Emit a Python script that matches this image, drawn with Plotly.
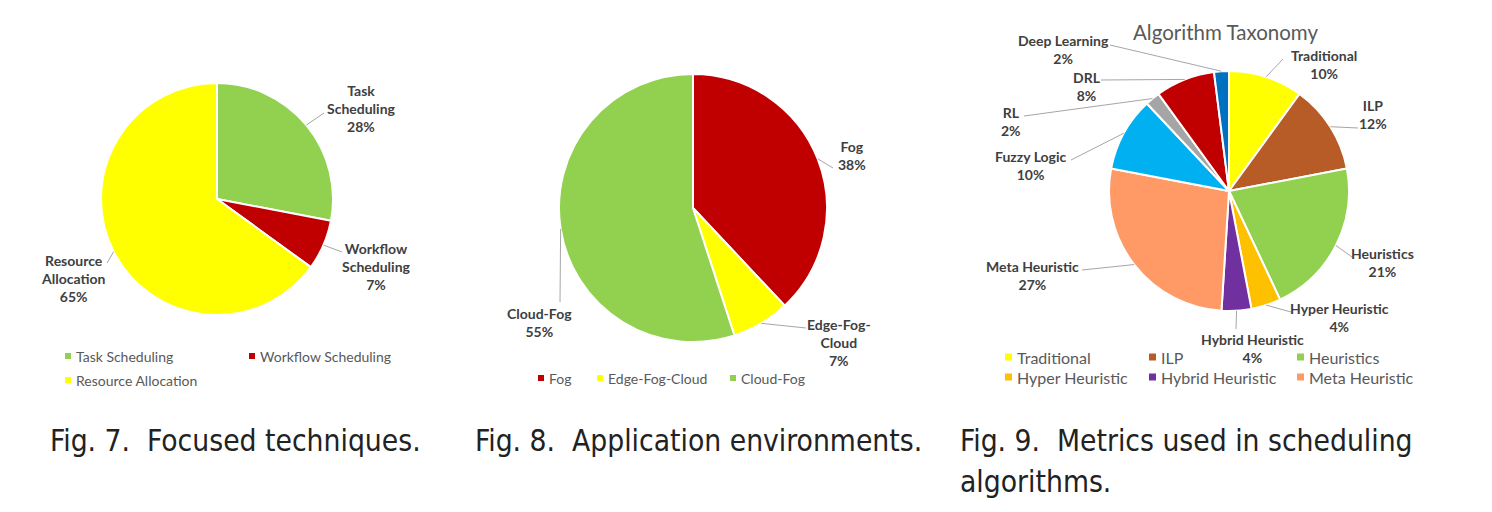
import math
import plotly.graph_objects as go

W, H = 1492, 512

# ---------------- data ----------------
fig7_labels = ["Task Scheduling", "Workflow Scheduling", "Resource Allocation"]
fig7_values = [28, 7, 65]
fig7_colors = ["#92D050", "#C00000", "#FFFF00"]
fig7_text = ["Task<br>Scheduling", "Workflow<br>Scheduling", "Resource<br>Allocation"]

fig8_labels = ["Fog", "Edge-Fog-Cloud", "Cloud-Fog"]
fig8_values = [38, 7, 55]
fig8_colors = ["#C00000", "#FFFF00", "#92D050"]
fig8_text = ["Fog", "Edge-Fog-<br>Cloud", "Cloud-Fog"]

fig9_labels = ["Traditional", "ILP", "Heuristics", "Hyper Heuristic", "Hybrid Heuristic",
               "Meta Heuristic", "Fuzzy Logic", "RL", "DRL", "Deep Learning"]
fig9_values = [10, 12, 21, 4, 4, 27, 10, 2, 8, 2]
fig9_colors = ["#FFFF00", "#B85C27", "#92D050", "#FFC000", "#7030A0",
               "#FF9966", "#00B0F0", "#A5A5A5", "#C00000", "#0070C0"]
fig9_legend_count = 6

captions = ["Fig. 7.  Focused techniques.", "Fig. 8.  Application environments.",
            "Fig. 9.  Metrics used in scheduling", "algorithms."]
fig9_title = "Algorithm Taxonomy"

# ---------------- layout (pixel positions) ----------------
pies = [
    dict(labels=fig7_labels, values=fig7_values, colors=fig7_colors, text=fig7_text,
         center=(217, 199), r=116,
         label_xy=[(361, 108), (376, 266), (73, 278)],
         leader_end=[(324, 113), (342, 252), (107, 263)],
         legend_xy=[(65, 356), (249, 356), (65, 380)], legend_n=3, legend_size=14, sq=6, gap=9),
    dict(labels=fig8_labels, values=fig8_values, colors=fig8_colors, text=fig8_text,
         center=(693, 208), r=134,
         label_xy=[(852, 155), (839, 342), (539, 322)],
         leader_end=[(833, 168), (806, 328), (560, 302)],
         legend_xy=[(538, 378), (597, 378), (730, 378)], legend_n=3, legend_size=14, sq=6, gap=9),
    dict(labels=fig9_labels, values=fig9_values, colors=fig9_colors,
         text=fig9_labels,
         center=(1229, 191), r=120,
         label_xy=[(1324, 64), (1373, 114), (1382, 262), (1339, 317), (1252, 348),
                   (1032, 275), (1030, 165), (1011, 121), (1087, 86), (1063, 49)],
         leader_end=[(1283, 59), (1358, 128), (1352, 257), (1291, 312), (1236, 329),
                     (1082, 270), (1071, 160), (1024, 116), (1101, 80), (1110, 45)],
         legend_xy=[(1005, 357), (1149, 357), (1297, 357), (1005, 377), (1149, 377), (1297, 377)],
         legend_n=fig9_legend_count, legend_size=16, sq=7, gap=10),
]
caption_xy = [(48, 440), (473, 440), (958, 440), (958, 481)]


def px(x):
    return x / W


def py(y):
    return 1 - y / H


fig = go.Figure()
shapes = []
annotations = []
FONT = "Lato, Carlito, Calibri, sans-serif"
LABEL_FONT = dict(family=FONT, size=14, color="#404040")
LEADER = dict(color="#A6A6A6", width=1)

for p in pies:
    cx, cy = p["center"]
    r = p["r"]
    fig.add_trace(go.Pie(
        labels=p["labels"], values=p["values"], sort=False, direction="clockwise",
        rotation=0, textinfo="none", hoverinfo="label+percent", showlegend=False,
        marker=dict(colors=p["colors"], line=dict(color="white", width=2)),
        domain=dict(x=[px(cx - r), px(cx + r)], y=[py(cy + r), py(cy - r)]),
    ))
    total = sum(p["values"])
    cum = 0
    for i, v in enumerate(p["values"]):
        mid = (cum + v / 2) / total * 2 * math.pi
        cum += v
        sx = cx + r * math.sin(mid)
        sy = cy - r * math.cos(mid)
        ex, ey = p["leader_end"][i]
        shapes.append(dict(type="line", xref="paper", yref="paper",
                           x0=px(sx), y0=py(sy), x1=px(ex), y1=py(ey), line=LEADER))
        pct = round(v / total * 100)
        lx, ly = p["label_xy"][i]
        annotations.append(dict(
            x=px(lx), y=py(ly), xref="paper", yref="paper", showarrow=False,
            text="<b>%s<br>%d%%</b>" % (p["text"][i], pct), align="center",
            xanchor="center", yanchor="middle", font=LABEL_FONT))
    # legend
    for i in range(p["legend_n"]):
        lx, ly = p["legend_xy"][i]
        s = p["sq"]
        shapes.append(dict(type="rect", xref="paper", yref="paper",
                           x0=px(lx), x1=px(lx + s), y0=py(ly + s / 2), y1=py(ly - s / 2),
                           fillcolor=p["colors"][i], line=dict(width=0)))
        annotations.append(dict(
            x=px(lx + p["gap"]), y=py(ly), xref="paper", yref="paper", showarrow=False,
            text=p["labels"][i], xanchor="left", yanchor="middle",
            font=dict(family=FONT, size=p["legend_size"], color="#595959")))

annotations.append(dict(x=px(1225), y=py(32), xref="paper", yref="paper", showarrow=False,
                        text=fig9_title, xanchor="center", yanchor="middle",
                        font=dict(family=FONT, size=20.5, color="#595959")))

for (cxp, cyp), cap in zip(caption_xy, captions):
    annotations.append(dict(x=px(cxp), y=py(cyp), xref="paper", yref="paper", showarrow=False,
                            text=cap, xanchor="left", yanchor="middle", align="left",
                            font=dict(family="Liberation Sans Narrow, DejaVu Sans Condensed, sans-serif",
                                      size=29.7, color="#222222")))

fig.update_layout(
    width=W, height=H, autosize=False,
    margin=dict(l=0, r=0, t=0, b=0),
    paper_bgcolor="white", plot_bgcolor="white",
    shapes=shapes, annotations=annotations,
)

fig.write_html("out.html", config={"displayModeBar": False})
